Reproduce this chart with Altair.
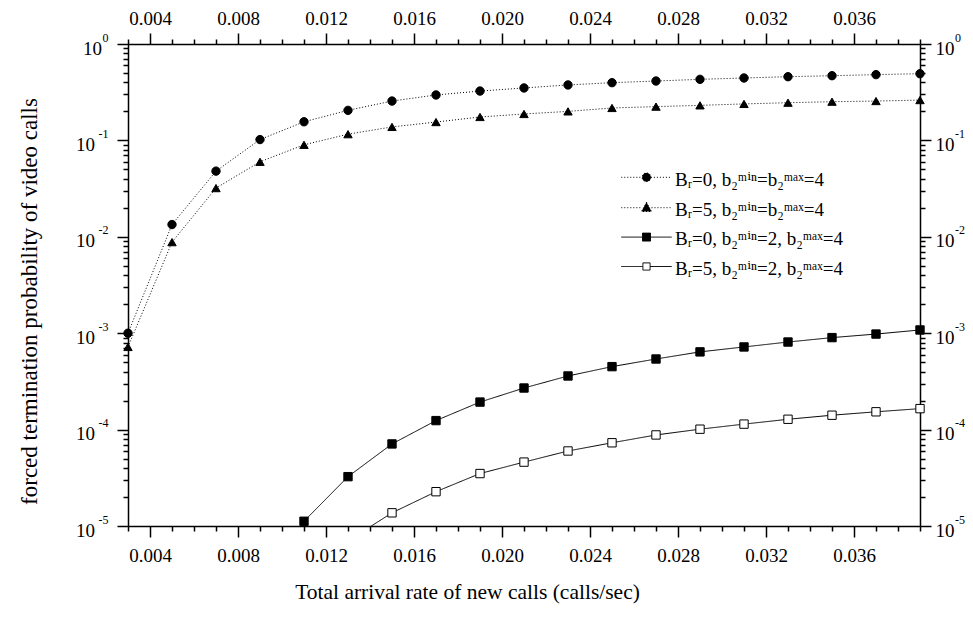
import math
import altair as alt
import pandas as pd

# ---------------- data ----------------
rate = [0.003, 0.005, 0.007, 0.009, 0.011, 0.013, 0.015, 0.017, 0.019, 0.021,
        0.023, 0.025, 0.027, 0.029, 0.031, 0.033, 0.035, 0.037, 0.039]

br0_fixed = [1.0e-3, 1.34e-2, 4.8e-2, 0.102, 0.156, 0.205, 0.256, 0.296, 0.325, 0.350,
             0.376, 0.397, 0.413, 0.430, 0.444, 0.458, 0.469, 0.481, 0.492]
br5_fixed = [7.2e-4, 8.8e-3, 3.2e-2, 0.060, 0.090, 0.116, 0.138, 0.155, 0.175, 0.188,
             0.200, 0.217, 0.224, 0.231, 0.239, 0.246, 0.252, 0.256, 0.262]
br0_adapt = [None, None, None, None, 1.12e-5, 3.25e-5, 7.1e-5, 1.24e-4, 1.93e-4, 2.7e-4,
             3.6e-4, 4.5e-4, 5.4e-4, 6.4e-4, 7.2e-4, 8.1e-4, 9.0e-4, 9.8e-4, 1.08e-3]
br5_adapt = [None, None, None, None, None, 7.0e-6, 1.37e-5, 2.27e-5, 3.5e-5, 4.6e-5,
             6.0e-5, 7.3e-5, 8.8e-5, 1.01e-4, 1.14e-4, 1.28e-4, 1.41e-4, 1.53e-4, 1.65e-4]

series_names = [
    "B\u1d63=0, b\u2082\u1d50\u2071\u207f=b\u2082\u1d50\u1d43\u02e3=4",
    "B\u1d63=5, b\u2082\u1d50\u2071\u207f=b\u2082\u1d50\u1d43\u02e3=4",
    "B\u1d63=0, b\u2082\u1d50\u2071\u207f=2, b\u2082\u1d50\u1d43\u02e3=4",
    "B\u1d63=5, b\u2082\u1d50\u2071\u207f=2, b\u2082\u1d50\u1d43\u02e3=4",
]
series_values = [br0_fixed, br5_fixed, br0_adapt, br5_adapt]

x_tick_values = [round(0.003 + 0.001 * i, 3) for i in range(37)]
y_tick_values = sorted([m * 10.0 ** k for k in range(-5, 0) for m in range(1, 10)] + [1.0])
y_major_values = [1e-5, 1e-4, 1e-3, 1e-2, 1e-1, 1.0]
y_exponent_labels = ["0", "-1", "-2", "-3", "-4", "-5"]   # index = -log10(value)

x_title = "Total arrival rate of new calls (calls/sec)"
y_title = "forced termination probability of video calls"

rows = []
for name, vals in zip(series_names, series_values):
    for xv, yv in zip(rate, vals):
        if yv is not None:
            rows.append({"rate": xv, "p": yv, "series": name})
df = pd.DataFrame(rows)

# ---------------- styling ----------------
FONT = "Liberation Serif, DejaVu Serif, serif"
LABEL_SIZE = 19
EXP_SIZE = 12

xs = alt.Scale(domain=[0.003, 0.039], nice=False, zero=False)
ys = alt.Scale(type="log", domain=[1e-5, 1], nice=False)

x_major_test = "round(datum.value*1000) % 4 == 0"
y_major_test = "abs(log(datum.value)/LN10 - round(log(datum.value)/LN10)) < 0.001"
x_label_expr = f"{x_major_test} ? format(datum.value, '.3f') : ''"
y_base_expr = f"{y_major_test} ? '10' : ''"
y_exp_expr = f"{y_exponent_labels!r}[-round(log(datum.value)/LN10)]"

common = dict(
    grid=False, domainColor="black", domainWidth=1.5, tickColor="black", tickWidth=1.5,
    labelFont=FONT, labelFontSize=LABEL_SIZE, labelColor="black", labelOverlap=False,
    labelFlush=False, titleFont=FONT, titleColor="black", titleFontWeight="normal",
)


def x_axis(orient, title=None, **kw):
    return alt.Axis(orient=orient, values=x_tick_values, labelExpr=x_label_expr,
                    tickSize={"condition": {"test": x_major_test, "value": 11}, "value": 5},
                    title=title, **common, **kw)


def y_axis(orient, title=None, **kw):
    return alt.Axis(orient=orient, values=y_tick_values, labelExpr=y_base_expr,
                    tickSize={"condition": {"test": y_major_test, "value": 11}, "value": 5},
                    title=title, **common, **kw)


def y_exp_axis(orient, pad):
    return alt.Axis(orient=orient, values=y_major_values, labelExpr=y_exp_expr,
                    ticks=False, tickSize=0, domain=False, grid=False, title=None,
                    labelFont=FONT, labelFontSize=EXP_SIZE, labelColor="black",
                    labelOverlap=False, labelFlush=False, labelPadding=pad, labelOffset=-7)


dash_range = [[1, 2], [1, 2], [1, 0], [1, 0]]

lines = alt.Chart(df).mark_line(color="black", strokeWidth=1, clip=True).encode(
    x=alt.X("rate:Q", scale=xs,
            axis=x_axis("bottom", x_title, labelPadding=9, titleX=339, titleY=72,
                        titleFontSize=21.5, titleAlign="center",
                        titleBaseline="alphabetic", titleAngle=0)),
    y=alt.Y("p:Q", scale=ys,
            axis=y_axis("left", y_title,
                        labelPadding={"condition": {"test": "datum.value == 1", "value": 15.5},
                                      "value": 22.5},
                        labelOffset=4, titleX=-92, titleY=257, titleFontSize=23,
                        titleAlign="center", titleBaseline="alphabetic", titleAngle=270)),
    strokeDash=alt.StrokeDash("series:N", scale=alt.Scale(domain=series_names, range=dash_range),
                              legend=None),
)

points = alt.Chart(df).transform_filter("datum.p >= 0.00001").mark_point(
    filled=True, size=70, stroke="black", strokeWidth=1, opacity=1
).encode(
    x=alt.X("rate:Q", scale=xs, axis=x_axis("top", None, labelPadding=5)),
    y=alt.Y("p:Q", scale=ys, axis=y_axis("right", None, labelPadding=4, labelOffset=4)),
    shape=alt.Shape("series:N", scale=alt.Scale(domain=series_names,
                                                range=["circle", "triangle-up", "square", "square"]),
                    legend=None),
    fill=alt.Fill("series:N", scale=alt.Scale(domain=series_names,
                                              range=["black", "black", "black", "white"]),
                  legend=None),
)

# exponent labels of the powers of ten (left and right axes)
exp_left = alt.Chart(df).transform_filter("false").mark_point().encode(
    y=alt.Y("p:Q", scale=ys, axis=y_exp_axis("left", 20)))
exp_right = alt.Chart(df).transform_filter("false").mark_point().encode(
    y=alt.Y("p:Q", scale=ys, axis=y_exp_axis("right", 34.5)))

# legend symbols: a short line with the marker in the middle (unit = 4 px)
SH = -0.55  # vertical shift of the symbol relative to label middle
HL = 6.3    # half line length


def fmt(v):
    return f"{v:.3f}"


def poly(pts):
    return "M" + "L".join(f"{fmt(px)},{fmt(py + SH)}" for px, py in pts) + "Z"


def line_with(half_gap, marker):
    return (f"M{fmt(-HL)},{fmt(SH)}L{fmt(-half_gap)},{fmt(SH)}"
            f"M{fmt(half_gap)},{fmt(SH)}L{fmt(HL)},{fmt(SH)}" + marker)


circle_m = poly([(1.1 * math.cos(2 * math.pi * i / 20), 1.1 * math.sin(2 * math.pi * i / 20))
                 for i in range(20)])
tri_m = poly([(0, -1.35), (1.25, 0.95), (-1.25, 0.95)])
sq_m = poly([(-1.0, -1.0), (1.0, -1.0), (1.0, 1.0), (-1.0, 1.0)])
osq_m = poly([(-0.9, -0.9), (0.9, -0.9), (0.9, 0.9), (-0.9, 0.9)])
legend_shapes = [line_with(1.1, circle_m), line_with(1.25, tri_m),
                 line_with(1.0, sq_m), line_with(0.9, osq_m)]

leg = dict(title=None, orient="none", legendX=509, legendY=126, labelFont=FONT,
           labelFontSize=LABEL_SIZE, labelColor="black", labelOffset=19, labelLimit=500,
           rowPadding=9.4, padding=0, symbolSize=64, symbolStrokeWidth=1,
           symbolStrokeColor="black")

legend_layer = alt.Chart(df).transform_filter("false").mark_point(
    filled=True, size=64, strokeWidth=1, opacity=1
).encode(
    shape=alt.Shape("series:N", scale=alt.Scale(domain=series_names, range=legend_shapes),
                    legend=alt.Legend(**leg)),
    fill=alt.Fill("series:N", scale=alt.Scale(domain=series_names,
                                              range=["black", "black", "black", "white"]),
                  legend=alt.Legend(**leg)),
    stroke=alt.Stroke("series:N", scale=alt.Scale(domain=series_names,
                                                  range=["black", "black", "black", "black"]),
                      legend=alt.Legend(**leg)),
    strokeDash=alt.StrokeDash("series:N", scale=alt.Scale(domain=series_names, range=dash_range),
                              legend=alt.Legend(**leg)),
)

chart = alt.layer(lines, points, exp_left, exp_right, legend_layer).resolve_axis(
    x="independent", y="independent"
).resolve_scale(
    shape="independent", fill="independent", stroke="independent", strokeDash="independent"
).properties(
    width=792, height=482,
    autosize=alt.AutoSizeParams(type="none"),
    padding={"left": 120, "top": 36, "right": 45, "bottom": 80},
    background="white",
).configure_view(stroke=None)

chart.save("out.html", embed_options={"renderer": "svg", "actions": False})
